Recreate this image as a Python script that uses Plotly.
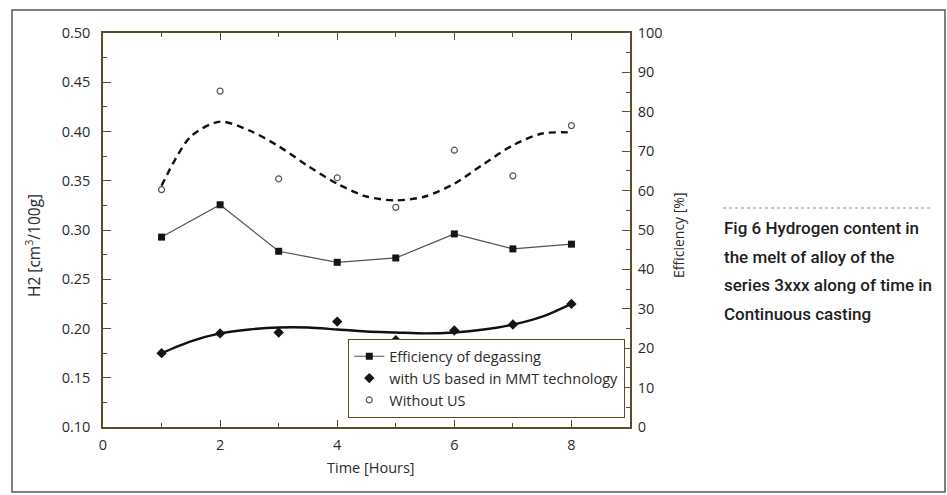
import plotly.graph_objects as go

# ---------------- data ----------------
hours = [1, 2, 3, 4, 5, 6, 7, 8]

# H2 content [cm3/100g] - left axis
h2_without_us = [0.341, 0.441, 0.352, 0.353, 0.323, 0.381, 0.355, 0.406]
h2_with_us = [0.175, 0.195, 0.196, 0.207, 0.188, 0.198, 0.204, 0.225]

# Efficiency of degassing [%] - right axis
efficiency = [48.2, 56.4, 44.6, 41.8, 42.9, 49.0, 45.2, 46.4]

# fitted trend curves, every half hour
fit_hours = [1, 1.5, 2, 2.5, 3, 3.5, 4, 4.5, 5, 5.5, 6, 6.5, 7, 7.5, 8]
fit_without_us = [0.345, 0.395, 0.410, 0.401, 0.385, 0.365, 0.347, 0.334,
                  0.330, 0.334, 0.347, 0.367, 0.386, 0.398, 0.399]
fit_with_us = [0.175, 0.187, 0.195, 0.199, 0.201, 0.201, 0.199, 0.197,
               0.196, 0.195, 0.196, 0.199, 0.204, 0.212, 0.225]

legend_names = ["Efficiency of degassing",
                "with US based in MMT technology",
                "Without US"]
caption_lines = ["Fig 6 Hydrogen content in",
                 "the melt of alloy of the",
                 "series 3xxx along of time in",
                 "Continuous casting"]

# ---------------- layout geometry ----------------
WIDTH, HEIGHT = 947, 495
L, R, T, B = 103, 630, 33, 427          # plot area in pixels
PW, PH = R - L, B - T


def px_x(p):
    return (p - L) / PW


def px_y(p):
    return (B - p) / PH


AXIS_COL = "#5b4c2a"
TXT_COL = "#2b2b2b"
FONT = "Open Sans"

fig = go.Figure()

# trend curves (no legend)
fig.add_trace(go.Scatter(x=fit_hours, y=fit_without_us, mode="lines",
                         line=dict(color="#111111", width=2.4, dash="7px,5px",
                                   shape="spline", smoothing=0.8),
                         showlegend=False, hoverinfo="skip"))
fig.add_trace(go.Scatter(x=fit_hours, y=fit_with_us, mode="lines",
                         line=dict(color="#111111", width=2.4, shape="spline", smoothing=0.8),
                         showlegend=False, hoverinfo="skip"))

# efficiency (right axis)
fig.add_trace(go.Scatter(x=hours, y=efficiency, mode="lines+markers", yaxis="y2",
                         name=legend_names[0],
                         line=dict(color="#555048", width=1.2),
                         marker=dict(symbol="square", size=7, color="#151515")))
# measured points
fig.add_trace(go.Scatter(x=hours, y=h2_with_us, mode="markers", name=legend_names[1],
                         marker=dict(symbol="diamond", size=8, color="#151515")))
fig.add_trace(go.Scatter(x=hours, y=h2_without_us, mode="markers", name=legend_names[2],
                         marker=dict(symbol="circle-open", size=6, color="#555555",
                                     line=dict(color="#555555", width=1.2))))

tickfont = dict(family=FONT, size=14.5, color=TXT_COL)

fig.update_layout(
    width=WIDTH, height=HEIGHT,
    margin=dict(l=L, r=WIDTH - R, t=T, b=HEIGHT - B),
    paper_bgcolor="white", plot_bgcolor="white",
    font=dict(family=FONT, color=TXT_COL),
    xaxis=dict(range=[0, 9], tick0=0, dtick=2, showgrid=False, zeroline=False,
               showline=True, linecolor=AXIS_COL, linewidth=1.5, mirror="ticks",
               ticks="inside", ticklen=7, tickcolor=AXIS_COL, tickwidth=1.2,
               minor=dict(dtick=1, ticks="inside", ticklen=4, tickcolor=AXIS_COL),
               tickfont=tickfont, ticklabelstandoff=4),
    yaxis=dict(range=[0.10, 0.50], tick0=0.10, dtick=0.05, tickformat=".2f",
               showgrid=False, zeroline=False,
               showline=True, linecolor=AXIS_COL, linewidth=1.5,
               ticks="inside", ticklen=8, tickcolor=AXIS_COL, tickwidth=1.2,
               minor=dict(dtick=0.025, ticks="inside", ticklen=4, tickcolor=AXIS_COL),
               tickfont=tickfont, ticklabelstandoff=8),
    yaxis2=dict(range=[0, 100], tick0=0, dtick=10, overlaying="y", side="right",
                showgrid=False, zeroline=False,
                showline=True, linecolor=AXIS_COL, linewidth=1.5,
                ticks="inside", ticklen=8, tickcolor=AXIS_COL, tickwidth=1.2,
                minor=dict(dtick=5, ticks="inside", ticklen=4, tickcolor=AXIS_COL),
                tickfont=tickfont, ticklabelstandoff=3),
    legend=dict(x=px_x(348), y=px_y(418), xanchor="left", yanchor="bottom",
                bgcolor="white", bordercolor=AXIS_COL, borderwidth=1.3,
                font=dict(family=FONT, size=14.5, color=TXT_COL),
                tracegroupgap=0, itemwidth=30),
    showlegend=True,
)

annotations = [
    dict(text="Time [Hours]", x=px_x(371), y=px_y(467), xref="paper", yref="paper",
         xanchor="center", yanchor="middle",
         showarrow=False, font=dict(family=FONT, size=14.5, color=TXT_COL)),
    dict(text="H2 [cm<sup>3</sup>/100g]", x=px_x(33), y=px_y(246), xref="paper", yref="paper",
         xanchor="center", yanchor="middle",
         showarrow=False, textangle=-90, font=dict(family=FONT, size=15.5, color=TXT_COL)),
    dict(text="Efficiency [%]", x=px_x(678), y=px_y(235), xref="paper", yref="paper",
         xanchor="center", yanchor="middle",
         showarrow=False, textangle=-90, font=dict(family=FONT, size=14, color=TXT_COL)),
]
for i, line in enumerate(caption_lines):
    annotations.append(dict(text=line, x=px_x(722), y=px_y(228 + 28.5 * i),
                            xref="paper", yref="paper", xanchor="left", yanchor="middle",
                            showarrow=False,
                            font=dict(family="Roboto", size=17, color="#1e1e1e", weight=500)))
fig.update_layout(annotations=annotations)

fig.update_layout(shapes=[
    # dotted rule above the caption
    dict(type="line", xref="paper", yref="paper", x0=px_x(723), x1=px_x(932),
         y0=px_y(208), y1=px_y(208), line=dict(color="#8a8a8a", width=1, dash="dot")),
    # page frame
    dict(type="rect", xref="paper", yref="paper", x0=px_x(12), x1=px_x(945),
         y0=px_y(10), y1=px_y(492), line=dict(color="#555555", width=1.5)),
])

fig.write_html("out.html", config={"displayModeBar": False},
               post_script="document.body.style.margin='0';document.body.style.overflow='hidden';")
